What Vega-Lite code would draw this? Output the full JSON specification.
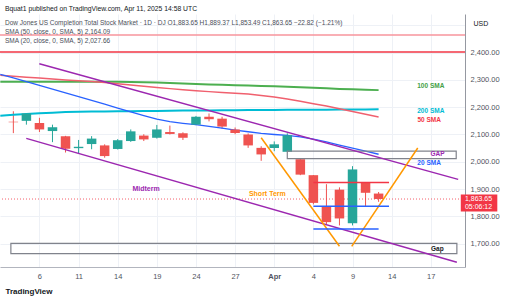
{
  "$schema": "https://vega.github.io/schema/vega-lite/v6.json",
  "width": 465,
  "height": 253,
  "autosize": {"type": "none"},
  "padding": {"left": 0, "top": 14, "right": 40, "bottom": 33},
  "background": "#ffffff",
  "config": {"font": "Liberation Sans", "view": {"stroke": null}, "axis": {"labelOverlap": false, "labelSeparation": 0}, "axisY": {"labelOverlap": false, "labelBound": false, "labelFlush": false}},
  "title": {
    "text": "Bquat1 published on TradingView.com, Apr 11, 2025 14:58 UTC",
    "subtitle": ["  Dow Jones US Completion Total Stock Market · 1D · DJ   O1,883.65  H1,889.37  L1,853.49  C1,863.65  −22.82 (−1.21%)", "  SMA (50, close, 0, SMA, 5)   2,164.09", "  SMA (20, close, 0, SMA, 5)   2,027.66"],
    "anchor": "start",
    "frame": "group",
    "orient": "top",
    "fontSize": 6.8,
    "fontWeight": "normal",
    "color": "#131722",
    "subtitleFontSize": 6.5,
    "subtitleColor": "#4a4e59",
    "subtitlePadding": 7,
    "subtitleLineHeight": 9,
    "offset": -30,
    "dx": 5
  },
  "datasets": {
    "candles": [
      {"d": "2025-03-04", "i": 0, "o": 2147, "h": 2185, "l": 2105, "c": 2145},
      {"d": "2025-03-05", "i": 1, "o": 2150, "h": 2178, "l": 2136, "c": 2177},
      {"d": "2025-03-06", "i": 2, "o": 2142, "h": 2161, "l": 2109, "c": 2118.5},
      {"d": "2025-03-07", "i": 3, "o": 2112.6, "h": 2136, "l": 2072, "c": 2126.6},
      {"d": "2025-03-10", "i": 4, "o": 2094, "h": 2095, "l": 2034, "c": 2048},
      {"d": "2025-03-11", "i": 5, "o": 2050, "h": 2080, "l": 2030, "c": 2055},
      {"d": "2025-03-12", "i": 6, "o": 2065, "h": 2094, "l": 2046, "c": 2085},
      {"d": "2025-03-13", "i": 7, "o": 2060, "h": 2064, "l": 2015, "c": 2021},
      {"d": "2025-03-14", "i": 8, "o": 2047, "h": 2083, "l": 2045, "c": 2079},
      {"d": "2025-03-17", "i": 9, "o": 2076, "h": 2118.5, "l": 2073, "c": 2111.5},
      {"d": "2025-03-18", "i": 10, "o": 2096, "h": 2101, "l": 2076, "c": 2082},
      {"d": "2025-03-19", "i": 11, "o": 2088, "h": 2135, "l": 2085, "c": 2118.5},
      {"d": "2025-03-20", "i": 12, "o": 2109, "h": 2132.6, "l": 2100, "c": 2102},
      {"d": "2025-03-21", "i": 13, "o": 2104.5, "h": 2108, "l": 2080, "c": 2088},
      {"d": "2025-03-24", "i": 14, "o": 2136, "h": 2168, "l": 2134, "c": 2165},
      {"d": "2025-03-25", "i": 15, "o": 2165, "h": 2177, "l": 2148, "c": 2156},
      {"d": "2025-03-26", "i": 16, "o": 2158, "h": 2165, "l": 2121, "c": 2129},
      {"d": "2025-03-27", "i": 17, "o": 2118.5, "h": 2125.6, "l": 2101, "c": 2105.5},
      {"d": "2025-03-28", "i": 18, "o": 2100, "h": 2104, "l": 2051, "c": 2060},
      {"d": "2025-03-31", "i": 19, "o": 2051, "h": 2057, "l": 2003.5, "c": 2027},
      {"d": "2025-04-01", "i": 20, "o": 2050.6, "h": 2074.6, "l": 2038.7, "c": 2064},
      {"d": "2025-04-02", "i": 21, "o": 2036.6, "h": 2104.5, "l": 2036, "c": 2097.4},
      {"d": "2025-04-03", "i": 22, "o": 2009.5, "h": 2013, "l": 1951, "c": 1953},
      {"d": "2025-04-04", "i": 23, "o": 1951, "h": 1951.5, "l": 1844, "c": 1849.5},
      {"d": "2025-04-07", "i": 24, "o": 1836, "h": 1918, "l": 1770, "c": 1779},
      {"d": "2025-04-08", "i": 25, "o": 1898, "h": 1906.4, "l": 1767, "c": 1792.5},
      {"d": "2025-04-09", "i": 26, "o": 1775, "h": 1984, "l": 1767, "c": 1972},
      {"d": "2025-04-10", "i": 27, "o": 1924, "h": 1925, "l": 1837, "c": 1886.47},
      {"d": "2025-04-11", "i": 28, "o": 1883.65, "h": 1889.37, "l": 1853.49, "c": 1863.65}
    ],
    "sma": [
      {"i": -1, "s20": 2320, "s50": 2317, "s100": 2293.5, "s200": 2169},
      {"i": 0, "s20": 2307, "s50": 2313, "s100": 2293.5, "s200": 2172},
      {"i": 1, "s20": 2293.5, "s50": 2310, "s100": 2293.5, "s200": 2175},
      {"i": 2, "s20": 2280, "s50": 2306.5, "s100": 2293.5, "s200": 2178},
      {"i": 3, "s20": 2266, "s50": 2303, "s100": 2293.5, "s200": 2180},
      {"i": 4, "s20": 2252, "s50": 2300, "s100": 2293.5, "s200": 2182},
      {"i": 5, "s20": 2238.5, "s50": 2297, "s100": 2293.5, "s200": 2183},
      {"i": 6, "s20": 2225, "s50": 2294, "s100": 2293.5, "s200": 2184},
      {"i": 7, "s20": 2211, "s50": 2290.5, "s100": 2293.5, "s200": 2184.5},
      {"i": 8, "s20": 2197, "s50": 2286, "s100": 2293.5, "s200": 2185},
      {"i": 9, "s20": 2183, "s50": 2281, "s100": 2292.5, "s200": 2185.5},
      {"i": 10, "s20": 2169, "s50": 2277, "s100": 2291.5, "s200": 2186},
      {"i": 11, "s20": 2156, "s50": 2272.5, "s100": 2290.5, "s200": 2186.5},
      {"i": 12, "s20": 2147, "s50": 2268, "s100": 2289, "s200": 2187},
      {"i": 13, "s20": 2141, "s50": 2264, "s100": 2287, "s200": 2187.5},
      {"i": 14, "s20": 2136, "s50": 2260.5, "s100": 2285, "s200": 2188},
      {"i": 15, "s20": 2130, "s50": 2257, "s100": 2283.5, "s200": 2188.3},
      {"i": 16, "s20": 2123, "s50": 2254, "s100": 2282, "s200": 2188.6},
      {"i": 17, "s20": 2116, "s50": 2251, "s100": 2280.5, "s200": 2189},
      {"i": 18, "s20": 2110, "s50": 2248, "s100": 2279.5, "s200": 2189.3},
      {"i": 19, "s20": 2104, "s50": 2243, "s100": 2278, "s200": 2189.6},
      {"i": 20, "s20": 2100, "s50": 2237, "s100": 2276.5, "s200": 2190},
      {"i": 21, "s20": 2097, "s50": 2230, "s100": 2275, "s200": 2190.2},
      {"i": 22, "s20": 2091, "s50": 2222, "s100": 2273, "s200": 2190.5},
      {"i": 23, "s20": 2083, "s50": 2213, "s100": 2271, "s200": 2190.7},
      {"i": 24, "s20": 2073, "s50": 2204, "s100": 2269, "s200": 2191},
      {"i": 25, "s20": 2061, "s50": 2194, "s100": 2267, "s200": 2191.2},
      {"i": 26, "s20": 2050, "s50": 2184, "s100": 2265.5, "s200": 2191.5},
      {"i": 27, "s20": 2039, "s50": 2174, "s100": 2264, "s200": 2191.7},
      {"i": 28, "s20": 2027.66, "s50": 2164.09, "s100": 2262.5, "s200": 2192}
    ],
    "levels": [
      {"p": 2464, "kind": "upper"},
      {"p": 2402, "kind": "resist"}
    ],
    "last": [{"p": 1863.65, "price": "1,863.65", "timer": "05:06:12"}],
    "boxes": [
      {"name": "GAP", "i1": 21.0, "i2": 33.95, "p1": 2039.3, "p2": 2011.9},
      {"name": "Gap", "i1": -0.19, "i2": 34.0, "p1": 1701, "p2": 1663.6}
    ],
    "segs": [
      {"kind": "channel", "i1": 1.99, "p1": 2358.8, "i2": 34.1, "p2": 1935.6},
      {"kind": "channel", "i1": 0.99, "p1": 2085.8, "i2": 34.0, "p2": 1632},
      {"kind": "vee", "i1": 19.0, "p1": 2088, "i2": 25.0, "p2": 1690.5},
      {"kind": "vee", "i1": 25.94, "p1": 1690.5, "i2": 31.0, "p2": 2050.6},
      {"kind": "resist", "i1": 23, "p1": 1924, "i2": 28.8, "p2": 1924},
      {"kind": "support", "i1": 23, "p1": 1837, "i2": 28.8, "p2": 1837},
      {"kind": "support", "i1": 23, "p1": 1754, "i2": 28.0, "p2": 1754}
    ],
    "tags": [
      {"text": "100 SMA", "kind": "sma100", "i": 32.0, "p": 2276.8},
      {"text": "200 SMA", "kind": "sma200", "i": 32.0, "p": 2185.3},
      {"text": "50 SMA", "kind": "sma50", "i": 31.88, "p": 2154.7},
      {"text": "GAP", "kind": "channel", "i": 32.52, "p": 2028},
      {"text": "20 SMA", "kind": "sma20", "i": 31.87, "p": 1996.4},
      {"text": "Gap", "kind": "gap", "i": 32.5, "p": 1682.3}
    ],
    "notes": [
      {"text": "Midterm", "kind": "channel", "i": 10.17, "p": 1901.4},
      {"text": "Short Term", "kind": "vee", "i": 19.47, "p": 1880.3}
    ]
  },
  "layer": [
    {
      "data": {"name": "candles"},
      "mark": {"type": "rule", "strokeWidth": 1},
      "encoding": {
        "x": {"field": "i", "type": "quantitative", "title": "TradingView",
          "scale": {"domain": [-0.64, 34.24], "nice": false, "zero": false},
          "axis": {"values": [2, 5, 8, 11, 14, 17, 20, 23, 26, 29, 32],
            "labelExpr": "['6','11','14','19','24','27','Apr','4','9','14','17'][round((datum.value-2)/3)]",
            "labelFontSize": 7.5, "labelColor": "#50535e", "labelPadding": 5, "labelOverlap": false,
            "labelFontWeight": {"condition": {"test": "datum.value == 20", "value": "bold"}, "value": "normal"},
            "ticks": false, "grid": true, "gridColor": "#eef1f6", "domainColor": "#b2b5be",
            "titleAnchor": "start", "titleAlign": "left", "titleX": 5, "titleY": 20,
            "titleFontSize": 8, "titleFontWeight": "bold", "titleColor": "#131722"}},
        "y": {"field": "l", "type": "quantitative", "title": "USD",
          "scale": {"domain": [1633, 2523], "nice": false, "zero": false},
          "axis": {"orient": "right", "tickCount": 9, "tickMinStep": 100,
            "labelExpr": "datum.value > 2450 ? '' : format(datum.value, ',.2f')",
            "labelFontSize": 7.5, "labelColor": "#50535e", "labelPadding": 5, "ticks": false, "labelOverlap": false, "labelBound": false, "labelFlush": false,
            "grid": true, "gridColor": "#eef1f6", "domainColor": "#9598a1",
            "titleAngle": 0, "titleAlign": "left", "titleBaseline": "middle", "titleX": 8, "titleY": 9,
            "titleFontSize": 7, "titleFontWeight": "normal", "titleColor": "#131722"}},
        "y2": {"field": "h"},
        "color": {"condition": {"test": "datum.c >= datum.o", "value": "#26a69a"}, "value": "#ef5350"}
      }
    },
    {
      "data": {"name": "levels"},
      "mark": {"type": "rule", "strokeWidth": 1.5},
      "encoding": {
        "y": {"field": "p", "type": "quantitative", "title": "USD", "scale": {"domain": [1633, 2523], "nice": false, "zero": false}},
        "color": {"field": "kind", "type": "nominal", "legend": null,
          "scale": {"domain": ["upper", "resist", "support", "channel", "vee", "sma20", "sma50", "sma100", "sma200", "gap"],
                    "range": ["#f7959c", "#f23645", "#2962ff", "#9c27b0", "#ff9800", "#2962ff", "#f23645", "#43a047", "#00bcd4", "#131722"]}}
      }
    },
    {
      "data": {"name": "last"},
      "mark": {"type": "rule", "strokeWidth": 1, "strokeDash": [1, 2], "color": "#f23645", "opacity": 0.8},
      "encoding": {
        "y": {"field": "p", "type": "quantitative", "title": "USD", "scale": {"domain": [1633, 2523], "nice": false, "zero": false}}
      }
    },
    {
      "data": {"name": "sma"},
      "mark": {"type": "line", "strokeWidth": 2, "color": "#4caf50", "clip": true},
      "encoding": {
        "x": {"field": "i", "type": "quantitative", "title": "TradingView", "scale": {"domain": [-0.64, 34.24], "nice": false, "zero": false}},
        "y": {"field": "s100", "type": "quantitative", "title": "USD", "scale": {"domain": [1633, 2523], "nice": false, "zero": false}}
      }
    },
    {
      "data": {"name": "sma"},
      "mark": {"type": "line", "strokeWidth": 2, "color": "#00bcd4", "clip": true},
      "encoding": {
        "x": {"field": "i", "type": "quantitative", "title": "TradingView", "scale": {"domain": [-0.64, 34.24], "nice": false, "zero": false}},
        "y": {"field": "s200", "type": "quantitative", "title": "USD", "scale": {"domain": [1633, 2523], "nice": false, "zero": false}}
      }
    },
    {
      "data": {"name": "sma"},
      "mark": {"type": "line", "strokeWidth": 1.5, "color": "#f0606e", "clip": true},
      "encoding": {
        "x": {"field": "i", "type": "quantitative", "title": "TradingView", "scale": {"domain": [-0.64, 34.24], "nice": false, "zero": false}},
        "y": {"field": "s50", "type": "quantitative", "title": "USD", "scale": {"domain": [1633, 2523], "nice": false, "zero": false}}
      }
    },
    {
      "data": {"name": "sma"},
      "mark": {"type": "line", "strokeWidth": 1.3, "color": "#2962ff", "clip": true},
      "encoding": {
        "x": {"field": "i", "type": "quantitative", "title": "TradingView", "scale": {"domain": [-0.64, 34.24], "nice": false, "zero": false}},
        "y": {"field": "s20", "type": "quantitative", "title": "USD", "scale": {"domain": [1633, 2523], "nice": false, "zero": false}}
      }
    },
    {
      "data": {"name": "candles"},
      "mark": {"type": "bar", "size": 9.5},
      "encoding": {
        "x": {"field": "i", "type": "quantitative", "title": "TradingView", "scale": {"domain": [-0.64, 34.24], "nice": false, "zero": false}},
        "y": {"field": "o", "type": "quantitative", "title": "USD", "scale": {"domain": [1633, 2523], "nice": false, "zero": false}},
        "y2": {"field": "c"},
        "color": {"condition": {"test": "datum.c >= datum.o", "value": "#26a69a"}, "value": "#ef5350"}
      }
    },
    {
      "data": {"name": "boxes"},
      "mark": {"type": "rect", "fill": null, "fillOpacity": 0, "stroke": "#80838c", "strokeWidth": 1.2, "clip": true},
      "encoding": {
        "x": {"field": "i1", "type": "quantitative", "title": "TradingView", "scale": {"domain": [-0.64, 34.24], "nice": false, "zero": false}},
        "x2": {"field": "i2"},
        "y": {"field": "p1", "type": "quantitative", "title": "USD", "scale": {"domain": [1633, 2523], "nice": false, "zero": false}},
        "y2": {"field": "p2"}
      }
    },
    {
      "data": {"name": "segs"},
      "mark": {"type": "rule", "clip": true},
      "encoding": {
        "x": {"field": "i1", "type": "quantitative", "title": "TradingView", "scale": {"domain": [-0.64, 34.24], "nice": false, "zero": false}},
        "x2": {"field": "i2"},
        "y": {"field": "p1", "type": "quantitative", "title": "USD", "scale": {"domain": [1633, 2523], "nice": false, "zero": false}},
        "y2": {"field": "p2"},
        "color": {"field": "kind", "type": "nominal", "legend": null,
          "scale": {"domain": ["upper", "resist", "support", "channel", "vee", "sma20", "sma50", "sma100", "sma200", "gap"],
                    "range": ["#f7959c", "#f23645", "#2962ff", "#9c27b0", "#ff9800", "#2962ff", "#f23645", "#43a047", "#00bcd4", "#131722"]}},
        "strokeWidth": {"field": "kind", "type": "nominal", "legend": null,
          "scale": {"domain": ["channel", "vee", "resist", "support"], "range": [1.5, 1.5, 1, 1]}}
      }
    },
    {
      "data": {"name": "tags"},
      "mark": {"type": "text", "fontSize": 6.5, "fontWeight": "bold", "align": "center", "baseline": "middle"},
      "encoding": {
        "x": {"field": "i", "type": "quantitative", "title": "TradingView", "scale": {"domain": [-0.64, 34.24], "nice": false, "zero": false}},
        "y": {"field": "p", "type": "quantitative", "title": "USD", "scale": {"domain": [1633, 2523], "nice": false, "zero": false}},
        "text": {"field": "text"},
        "color": {"field": "kind", "type": "nominal", "legend": null,
          "scale": {"domain": ["upper", "resist", "support", "channel", "vee", "sma20", "sma50", "sma100", "sma200", "gap"],
                    "range": ["#f7959c", "#f23645", "#2962ff", "#9c27b0", "#ff9800", "#2962ff", "#f23645", "#43a047", "#00bcd4", "#131722"]}}
      }
    },
    {
      "data": {"name": "notes"},
      "mark": {"type": "text", "fontSize": 7, "fontWeight": "bold", "align": "center", "baseline": "middle"},
      "encoding": {
        "x": {"field": "i", "type": "quantitative", "title": "TradingView", "scale": {"domain": [-0.64, 34.24], "nice": false, "zero": false}},
        "y": {"field": "p", "type": "quantitative", "title": "USD", "scale": {"domain": [1633, 2523], "nice": false, "zero": false}},
        "text": {"field": "text"},
        "color": {"field": "kind", "type": "nominal", "legend": null,
          "scale": {"domain": ["upper", "resist", "support", "channel", "vee", "sma20", "sma50", "sma100", "sma200", "gap"],
                    "range": ["#f7959c", "#f23645", "#2962ff", "#9c27b0", "#ff9800", "#2962ff", "#f23645", "#43a047", "#00bcd4", "#131722"]}}
      }
    },
    {
      "data": {"name": "last"},
      "mark": {"type": "bar", "size": 17, "color": "#f23645", "yOffset": 4},
      "encoding": {
        "x": {"datum": 34.3, "type": "quantitative", "title": "TradingView", "scale": {"domain": [-0.64, 34.24], "nice": false, "zero": false}},
        "x2": {"datum": 37.1},
        "y": {"field": "p", "type": "quantitative", "title": "USD", "scale": {"domain": [1633, 2523], "nice": false, "zero": false}}
      }
    },
    {
      "data": {"name": "last"},
      "mark": {"type": "text", "fontSize": 7, "color": "#ffffff", "align": "center", "baseline": "middle", "dy": 0},
      "encoding": {
        "x": {"datum": 35.66, "type": "quantitative", "title": "TradingView", "scale": {"domain": [-0.64, 34.24], "nice": false, "zero": false}},
        "y": {"field": "p", "type": "quantitative", "title": "USD", "scale": {"domain": [1633, 2523], "nice": false, "zero": false}},
        "text": {"field": "price"}
      }
    },
    {
      "data": {"name": "last"},
      "mark": {"type": "text", "fontSize": 7, "color": "#ffffff", "align": "center", "baseline": "middle", "dy": 8},
      "encoding": {
        "x": {"datum": 35.66, "type": "quantitative", "title": "TradingView", "scale": {"domain": [-0.64, 34.24], "nice": false, "zero": false}},
        "y": {"field": "p", "type": "quantitative", "title": "USD", "scale": {"domain": [1633, 2523], "nice": false, "zero": false}},
        "text": {"field": "timer"}
      }
    }
  ]
}
